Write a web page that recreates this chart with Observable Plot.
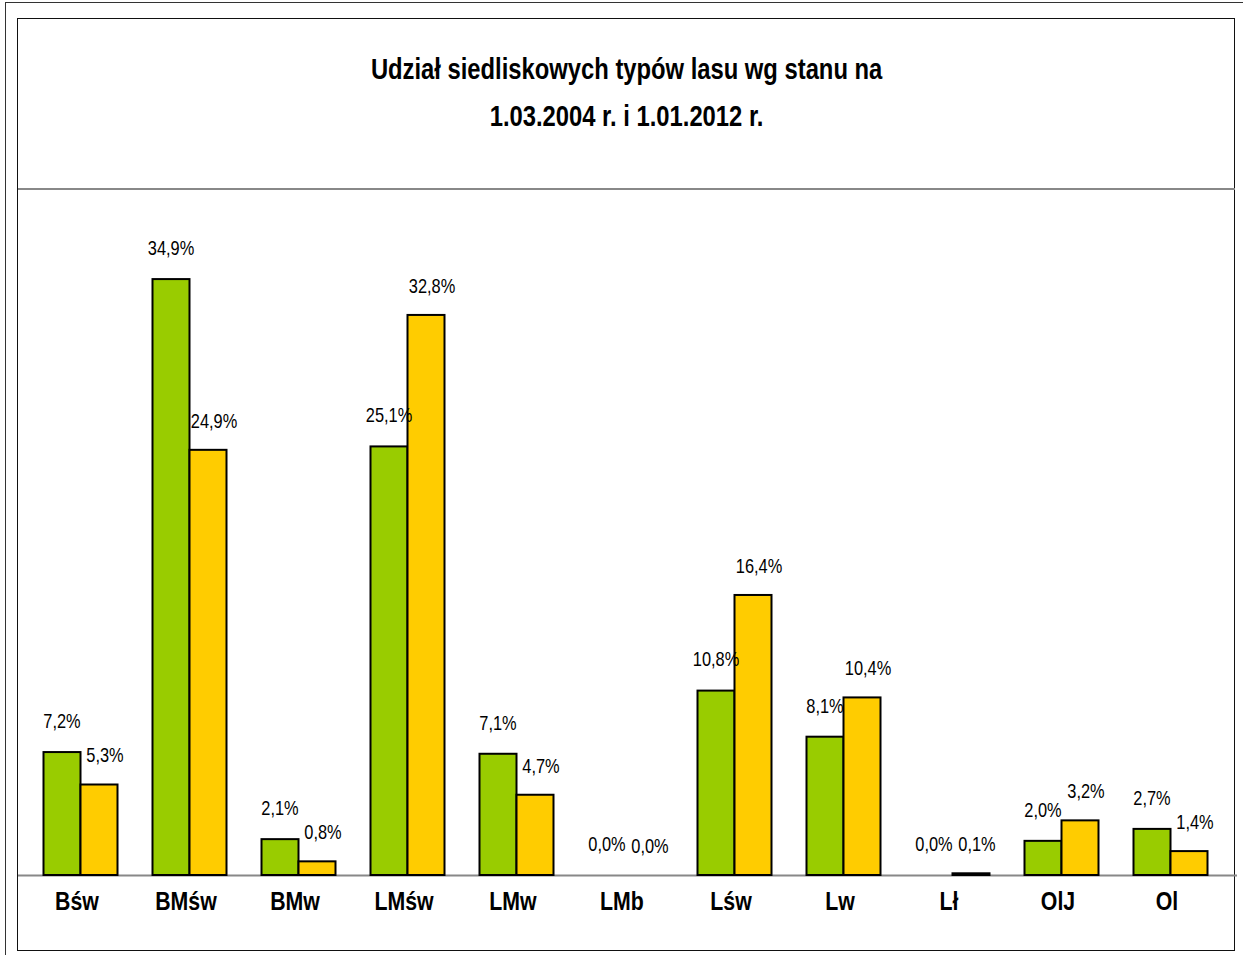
<!DOCTYPE html>
<html>
<head>
<meta charset="utf-8">
<script src="https://cdn.jsdelivr.net/npm/d3@7"></script>
<script src="https://cdn.jsdelivr.net/npm/@observablehq/plot@0.6"></script>
<style>
  html, body { margin: 0; padding: 0; background: #fff; }
  #wrap { position: relative; width: 1243px; height: 955px; overflow: hidden; background: #fff; }
  #outer { position: absolute; left: 5px; top: 2px; width: 1260px; height: 980px; border: 1.5px solid #333; box-sizing: border-box; }
  #inner { position: absolute; left: 17px; top: 18px; width: 1218px; height: 933px; border: 1.5px solid #111; box-sizing: border-box; }
  #sep { position: absolute; left: 18px; top: 188px; width: 1217px; height: 2px; background: #888; }
  #title { position: absolute; left: 0; top: 46px; width: 1253px; text-align: center;
    font-family: "Liberation Sans", Arial, sans-serif;
    font-weight: bold; font-size: 29px; line-height: 47px; color: #000;
    transform: scaleX(0.82); transform-origin: 627px 0; }
  #chart { position: absolute; left: 0; top: 0; }
</style>
</head>
<body>
<div id="wrap">
  <div id="outer"></div>
  <div id="inner"></div>
  <div id="sep"></div>
  <div id="title">Udział siedliskowych typów lasu wg stanu na<br>1.03.2004 r. i 1.01.2012 r.</div>
  <div id="chart"></div>
</div>
<script>
const categories = ["Bśw", "BMśw", "BMw", "LMśw", "LMw", "LMb", "Lśw", "Lw", "Lł", "OlJ", "Ol"];
const values2004 = [7.2, 34.9, 2.1, 25.1, 7.1, 0.0, 10.8, 8.1, 0.0, 2.0, 2.7];
const values2012 = [5.3, 24.9, 0.8, 32.8, 4.7, 0.0, 16.4, 10.4, 0.1, 3.2, 1.4];

const rows2004 = categories.map((c, i) => ({cat: c, v: values2004[i]}));
const rows2012 = categories.map((c, i) => ({cat: c, v: values2012[i]}));
const fmt = d => d.v.toFixed(1).replace(".", ",") + "%";

const FONT = '"Liberation Sans", Arial, sans-serif';

const chart = Plot.plot({
  width: 1243,
  height: 955,
  marginLeft: 25.5,
  marginRight: 18.5,
  marginTop: 192,
  marginBottom: 80,
  style: {background: "transparent", fontFamily: FONT, overflow: "visible"},
  x: {domain: categories, padding: 0, axis: null},
  y: {domain: [0, 40], axis: null},
  marks: [
    Plot.ruleY([0], {stroke: "#888", strokeWidth: 2, insetLeft: -7.5, insetRight: -12.5}),
    Plot.barY(rows2004.filter(d => d.v > 0), {x: "cat", y: "v", fill: "#99CC00", stroke: "#000", strokeWidth: 2, insetLeft: 17.5, insetRight: 54.5}),
    Plot.barY(rows2012.filter(d => d.v > 0), {x: "cat", y: "v", fill: "#FFCC00", stroke: "#000", strokeWidth: 2, insetLeft: 54.5, insetRight: 17.5}),
    Plot.text(rows2004, {x: "cat", y: "v", text: fmt, dx: -19, dy: -31, fontSize: 20, fill: "#000", fontFamily: FONT}),
    Plot.text(rows2012, {x: "cat", y: "v", text: fmt, dx: 24, dy: -29, fontSize: 20, fill: "#000", fontFamily: FONT}),
    Plot.text(categories, {x: d => d, y: 0, text: d => d, dx: -4, dy: 26, fontSize: 26, fontWeight: "bold", fill: "#000", fontFamily: FONT})
  ]
});
// narrow the glyphs horizontally (Arial Narrow look) around each label's own anchor
d3.select(chart).selectAll("text").each(function () {
  const t = this.getAttribute("transform");
  if (t) {
    this.setAttribute("transform", t + " scale(0.82,1)");
  } else {
    const x = +(this.getAttribute("x") || 0);
    this.setAttribute("transform", `translate(${x},0) scale(0.82,1) translate(${-x},0)`);
  }
});
document.getElementById("chart").appendChild(chart);
</script>
</body>
</html>
